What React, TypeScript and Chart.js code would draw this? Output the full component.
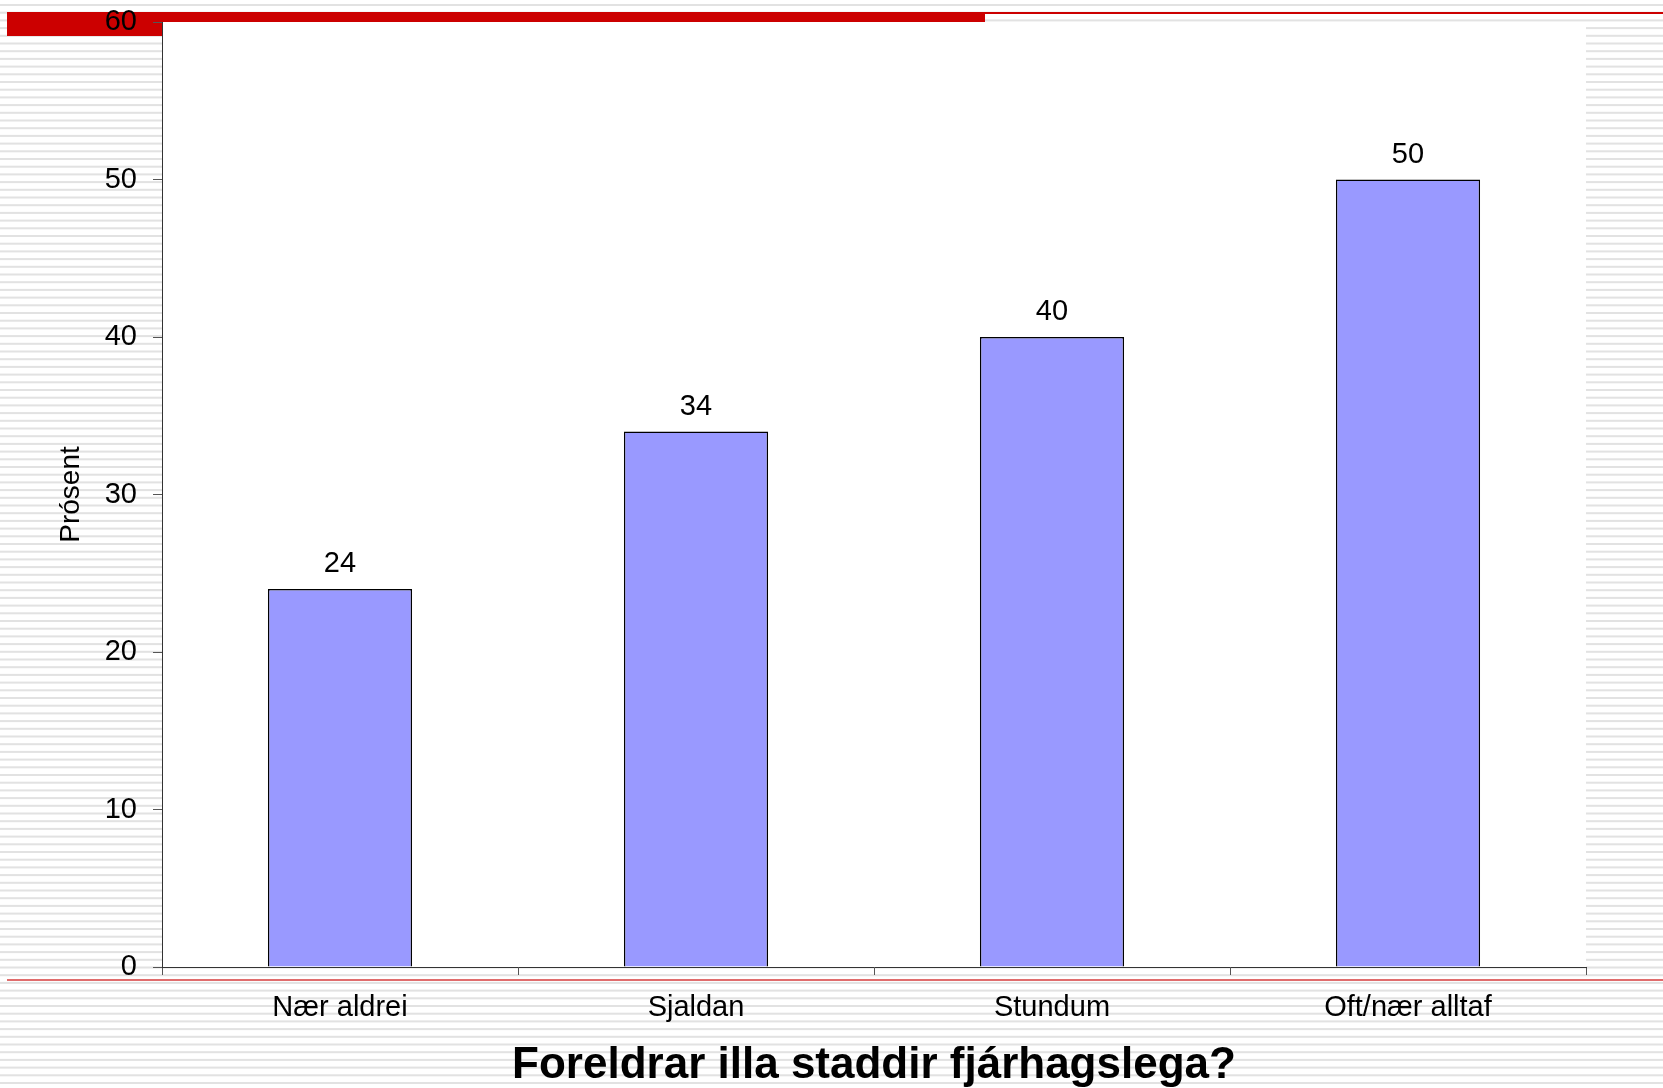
import React, { useEffect, useRef } from "react";
import { Chart, registerables } from "chart.js";

Chart.register(...registerables);

const categories = ["Nær aldrei", "Sjaldan", "Stundum", "Oft/nær alltaf"];
const values = [24, 34, 40, 50];
const yTicks = [0, 10, 20, 30, 40, 50, 60];
const yTitle = "Prósent";
const xTitle = "Foreldrar illa staddir fjárhagslega?";

const W = 1663;
const H = 1088;
const FONT = "'Liberation Sans', Arial, sans-serif";

const backgroundPlugin = {
  id: "slideBackground",
  beforeDraw(chart: any) {
    const { ctx, chartArea } = chart;
    ctx.save();
    ctx.fillStyle = "#ffffff";
    ctx.fillRect(0, 0, W, H);
    // horizontal stripes
    ctx.fillStyle = "#e2e2e2";
    for (let y = 4; y < H; y += 7.7) {
      ctx.fillRect(0, y, W, 2);
    }
    // red header decoration
    ctx.fillStyle = "#cc0000";
    ctx.fillRect(7, 12, 978, 24);
    ctx.fillRect(7, 12, W - 7, 2);
    // bottom red rule
    ctx.fillStyle = "#e06c6c";
    ctx.fillRect(7, 979, W - 7, 2);
    // white plot area
    ctx.fillStyle = "#ffffff";
    ctx.fillRect(
      chartArea.left,
      chartArea.top,
      chartArea.right - chartArea.left,
      chartArea.bottom - chartArea.top
    );
    ctx.restore();
  },
};

const valueLabelPlugin = {
  id: "valueLabels",
  afterDatasetsDraw(chart: any) {
    const { ctx } = chart;
    const meta = chart.getDatasetMeta(0);
    ctx.save();
    ctx.fillStyle = "#000000";
    ctx.font = `29px ${FONT}`;
    ctx.textAlign = "center";
    ctx.textBaseline = "alphabetic";
    meta.data.forEach((bar: any, i: number) => {
      ctx.fillText(String(values[i]), bar.x, bar.y - 17);
    });
    ctx.restore();
  },
};

export default function App() {
  const canvasRef = useRef<HTMLCanvasElement | null>(null);

  useEffect(() => {
    const canvas = canvasRef.current;
    if (!canvas) return;
    const chart = new Chart(canvas, {
      type: "bar",
      data: {
        labels: categories,
        datasets: [
          {
            data: values,
            backgroundColor: "#9999ff",
            borderColor: "#000000",
            borderWidth: 1.5,
            barPercentage: 0.405,
            categoryPercentage: 1,
          },
        ],
      },
      options: {
        responsive: false,
        animation: false,
        devicePixelRatio: 1,
        layout: { padding: { left: 0, right: 77, top: 22, bottom: 0 } },
        plugins: {
          legend: { display: false },
          tooltip: { enabled: false },
          title: { display: false },
        },
        scales: {
          x: {
            type: "category",
            grid: {
              display: true,
              offset: true,
              drawOnChartArea: false,
              drawTicks: true,
              tickLength: 8,
              color: "#555555",
              lineWidth: 1,
            },
            border: { display: true, color: "#333333", width: 1 },
            ticks: {
              color: "#000000",
              font: { family: FONT, size: 29 },
              padding: 16,
              maxRotation: 0,
              autoSkip: false,
            },
            title: {
              display: true,
              text: xTitle,
              color: "#000000",
              font: { family: FONT, size: 44, weight: "bold", lineHeight: 1 },
              padding: { top: 0, bottom: 0 },
            },
            afterFit(scale: any) {
              scale.height = 121;
              scale.paddingLeft = 0;
              scale.paddingRight = 0;
            },
          },
          y: {
            type: "linear",
            min: 0,
            max: 60,
            afterBuildTicks(scale: any) {
              scale.ticks = yTicks.map((v) => ({ value: v }));
            },
            grid: {
              display: true,
              drawOnChartArea: false,
              drawTicks: true,
              tickLength: 9,
              color: "#555555",
              lineWidth: 1,
            },
            border: { display: true, color: "#333333", width: 1 },
            ticks: {
              color: "#000000",
              font: { family: FONT, size: 29 },
              padding: 16,
            },
            title: {
              display: true,
              text: yTitle,
              color: "#000000",
              font: { family: FONT, size: 28 },
              padding: { top: 54, bottom: 0 },
            },
            afterFit(scale: any) {
              scale.width = 162;
              scale.paddingTop = 0;
              scale.paddingBottom = 0;
            },
          },
        },
      },
      plugins: [backgroundPlugin, valueLabelPlugin],
    } as any);
    return () => chart.destroy();
  }, []);

  return (
    <div style={{ position: "absolute", left: 0, top: 0, width: W, height: H }}>
      <canvas
        ref={canvasRef}
        width={W}
        height={H}
        style={{ display: "block", width: W, height: H }}
      />
    </div>
  );
}
